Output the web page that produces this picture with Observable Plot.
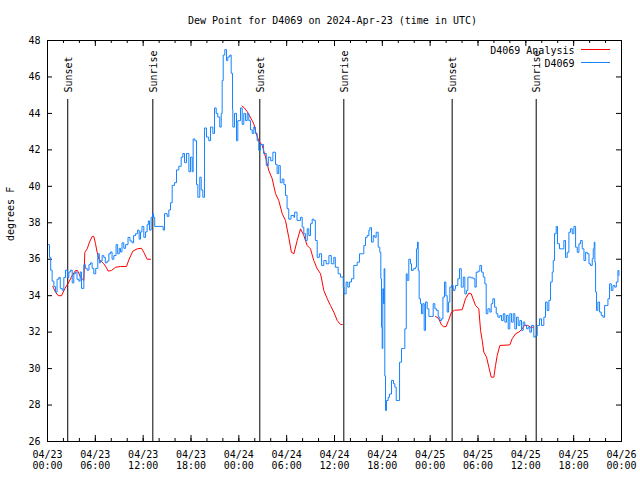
<!DOCTYPE html>
<html><head><meta charset="utf-8">
<script src="https://cdn.jsdelivr.net/npm/d3@7"></script>
<script src="https://cdn.jsdelivr.net/npm/@observablehq/plot@0.6"></script>
<style>body{margin:0;background:#fff} svg{display:block}</style>
</head><body><div id="chart"></div>
<script>
// ---- data (hours after 2024-04-23 00:00 UTC, degrees F) ----
const titleText = "Dew Point for D4069 on 2024-Apr-23 (time in UTC)";
const yLabel = "degrees F";
const seriesNames = ["D4069 Analysis", "D4069"];
const seriesColors = ["#ff0000", "#1683ff"];

const sunEventHours = [2.54, 13.21, 26.63, 37.17, 50.76, 61.3];
const sunEventLabels = ["Sunset", "Sunrise", "Sunset", "Sunrise", "Sunset", "Sunrise"];

const obsHours = [0.1,0.25,0.4,0.58,0.8,1.0,1.2,1.42,1.6,1.84,2.05,2.26,2.5,2.68,2.9,3.1,3.3,3.5,3.7,3.93,4.1,4.27,4.56,4.75,4.97,5.2,5.39,5.6,5.81,6.05,6.31,6.5,6.65,6.85,7.06,7.25,7.48,7.7,7.9,8.1,8.32,8.6,8.8,9.0,9.16,9.35,9.57,9.8,10.1,10.35,10.6,10.8,11.04,11.3,11.5,11.67,11.85,12.08,12.3,12.5,12.65,12.8,13.0,13.2,13.3,13.45,14.38,14.51,14.68,15.01,15.22,15.43,15.64,15.93,16.18,16.47,16.77,16.98,17.19,17.44,17.73,17.94,18.15,18.27,18.48,18.69,18.86,19.1,19.28,19.48,19.69,19.94,20.23,20.45,20.74,20.95,21.16,21.36,21.61,21.79,21.91,22.04,22.24,22.45,22.62,22.87,23.04,23.21,23.25,23.46,23.71,23.87,24.21,24.42,24.62,24.84,25.05,25.25,25.46,25.68,25.88,26.09,26.3,26.5,26.7,27.1,27.44,27.7,28.0,28.27,28.6,28.8,29.0,29.2,29.44,29.65,29.85,30.05,30.26,30.55,30.9,31.0,31.3,31.74,31.95,32.15,32.36,32.58,32.78,32.99,33.2,33.4,33.6,33.83,34.1,34.38,34.66,34.96,35.3,35.6,35.91,36.1,36.46,36.75,37.1,37.2,37.46,37.67,37.87,38.13,38.42,38.85,39.14,39.47,39.68,39.89,40.1,40.31,40.43,40.64,40.86,41.06,41.23,41.48,41.68,41.81,41.9,41.98,42.06,42.15,42.23,42.31,42.4,42.52,42.73,42.9,43.15,43.4,43.57,43.74,43.99,44.16,44.41,44.7,44.82,45.0,45.12,45.32,45.53,45.66,45.87,46.16,46.28,46.41,46.5,46.62,46.79,46.91,47.08,47.25,47.42,47.63,47.84,48.17,48.38,48.59,48.8,49.01,49.21,49.42,49.6,49.8,49.97,50.14,50.31,50.47,50.68,50.89,51.1,51.18,51.47,51.68,51.9,52.15,52.35,52.56,52.73,53.07,53.41,53.61,53.78,54.03,54.23,54.45,54.66,54.86,55.03,55.24,55.49,55.66,55.86,56.08,56.29,56.49,56.74,56.95,57.17,57.37,57.58,57.79,57.99,58.2,58.42,58.62,58.83,59.04,59.25,59.46,59.67,59.87,60.09,60.3,60.5,60.71,61.0,61.22,61.43,61.72,61.97,62.26,62.47,62.68,62.89,63.1,63.31,63.44,63.6,63.81,63.97,64.22,64.56,64.77,64.98,65.19,65.4,65.61,65.82,66.03,66.24,66.45,66.66,66.87,67.08,67.29,67.5,67.71,67.92,68.11,68.33,68.46,68.58,68.66,68.75,68.87,69.04,69.25,69.46,69.67,69.88,70.09,70.3,70.5,70.72,70.93,71.14,71.35,71.55,71.68];
const obsValues = [36.8,36.1,35.4,34.8,34.5,34.2,34.9,35.0,34.4,34.3,35.0,35.4,35.0,35.3,35.4,34.7,35.2,35.3,34.9,34.8,35.3,34.4,35.7,35.5,35.4,35.7,35.8,35.5,35.2,35.5,36.3,35.8,35.9,36.2,36.1,35.8,35.9,36.3,36.4,36.0,36.2,36.8,36.3,36.6,36.4,36.9,36.6,36.8,37.2,37.0,36.9,37.3,37.4,37.6,37.1,37.5,37.8,37.2,37.5,37.9,38.1,37.6,38.3,38.5,38.3,37.8,37.8,37.6,38.5,38.35,38.7,39.1,40.05,40.2,40.9,41.1,41.6,41.8,41.3,41.8,40.8,41.6,40.8,42.6,42.5,40.1,39.4,40.5,39.8,39.4,43.2,42.7,42.5,43.25,42.9,44.3,44.0,43.8,43.25,44.0,45.8,47.2,47.5,46.9,47.1,47.2,46.2,44.2,43.25,44.0,42.5,43.6,44.3,43.4,44.0,43.6,44.0,43.6,43.1,42.9,43.25,42.9,42.5,41.97,42.3,41.8,41.14,41.6,41.4,41.87,41.2,40.7,41.14,40.2,40.4,40.1,39.5,38.77,38.2,38.4,38.3,38.58,38.13,38.3,37.76,37.4,37.03,37.67,37.3,37.95,38.2,38.13,37.03,36.1,36.3,35.66,35.93,35.75,36.2,35.75,36.1,35.56,35.2,35.02,34.47,34.1,34.75,34.47,34.75,34.93,35.66,35.84,36.3,36.3,36.75,37.2,37.3,37.58,37.73,36.94,37.3,37.2,37.48,36.66,36.38,34.93,32.27,31.1,34.38,33.56,35.48,29.6,27.7,28.25,28.43,28.6,29.35,29.17,28.98,28.25,28.25,30.35,31.1,31.1,32.18,35.2,34.84,36.0,35.75,35.38,35.48,35.56,36.57,36.94,35.38,33.83,33.56,33.01,33.56,32.1,33.65,33.28,32.86,32.86,33.56,33.28,33.19,32.82,32.64,32.73,33.92,34.75,34.0,33.1,33.65,34.47,34.56,34.29,34.38,34.56,34.93,35.48,34.47,35.02,34.1,34.29,35.02,34.98,34.93,34.47,35.29,35.35,35.66,35.29,35.02,34.65,33.01,33.28,33.1,33.56,33.83,33.37,33.01,32.82,32.92,32.64,33.01,32.55,32.92,32.18,33.01,32.55,33.01,32.18,32.82,32.37,32.64,32.1,32.55,32.37,32.18,32.27,32.0,32.37,31.73,31.8,32.37,32.73,32.37,32.82,33.65,33.19,33.74,34.75,35.29,35.93,37.4,37.8,36.85,36.57,36.57,37.03,36.1,36.38,37.48,37.67,37.4,37.8,36.66,36.38,36.85,37.03,36.57,35.93,36.38,36.3,35.75,35.66,36.03,36.57,36.94,35.84,34.2,33.19,33.65,33.1,32.92,32.82,33.46,33.46,33.83,34.65,34.29,34.56,34.47,34.75,35.38,35.11];

// analysis series; null marks a gap between runs
const anaHours = [0.67,1.0,1.34,1.76,2.17,2.68,3.1,3.51,3.76,4.14,4.56,4.68,4.98,5.27,5.6,5.81,6.02,6.23,6.44,6.65,7.06,7.36,7.61,8.03,8.53,9.16,9.91,10.2,10.7,11.25,11.79,12.08,12.5,12.92,
  null,
  24.4,24.7,25.05,25.3,25.68,25.9,26.1,26.5,26.93,27.35,27.76,28.19,28.6,29.01,29.44,29.85,30.26,30.6,30.9,31.32,31.74,32.15,32.58,32.99,33.4,33.83,34.25,34.66,35.09,35.5,35.91,36.34,36.75,36.97,
  null,
  48.67,49.05,49.42,49.67,50.0,50.31,50.68,51.06,52.02,52.43,52.85,53.15,53.69,54.1,54.32,54.53,54.73,55.07,55.36,55.66,55.99,56.2,56.41,56.74,57.99,58.29,58.71,59.12,59.55,59.84,60.25,60.59,60.93];
const anaValues = [34.5,34.2,34.0,34.0,34.38,34.75,35.11,35.38,35.38,35.02,34.84,36.38,36.57,36.94,37.25,37.25,36.85,36.38,36.0,35.93,35.75,35.56,35.35,35.38,35.56,35.6,35.6,35.96,36.44,36.57,36.6,36.38,36.0,36.0,
  null,
  44.4,44.3,44.1,43.9,43.6,43.4,43.0,42.5,42.24,41.6,40.87,40.41,39.6,39.22,38.5,38.13,37.2,36.38,36.3,37.03,37.67,37.3,36.75,36.57,35.93,35.48,35.2,34.29,33.83,33.46,33.1,32.64,32.42,32.42,
  null,
  32.86,32.75,32.4,32.3,32.3,32.65,33.1,33.2,33.23,33.83,34.14,34.1,33.46,33.28,32.1,31.54,30.9,30.63,30.08,29.53,29.53,30.17,30.72,31.27,31.3,31.64,31.91,32.0,32.18,32.37,32.37,32.27,32.27];

const yTicks = [26,28,30,32,34,36,38,40,42,44,46,48];
const majorTickHours = [0,6,12,18,24,30,36,42,48,54,60,66,72];

// ---- build ----
const start = Date.UTC(2024, 3, 23);
const toDate = h => h == null ? null : new Date(start + h * 3600e3);
const W = 640, H = 480, mL = 47, mR = 19, mT = 40, mB = 39;
const plotH = H - mT - mB, plotW = W - mL - mR;
const majorTicks = majorTickHours.map(toDate);
const minorTicks = d3.range(0, 73, 2).map(toDate);
const fmt = d3.utcFormat("%m/%d\n%H:%M");

const legend = () => {
  const g = d3.create("svg:g").attr("stroke-width", 1);
  g.append("line").attr("x1", 581).attr("x2", 610).attr("y1", 49.5).attr("y2", 49.5).attr("stroke", seriesColors[0]);
  g.append("line").attr("x1", 581).attr("x2", 610).attr("y1", 62.5).attr("y2", 62.5).attr("stroke", seriesColors[1]);
  return g.node();
};

const chart = Plot.plot({
  width: W, height: H,
  marginLeft: mL, marginRight: mR, marginTop: mT, marginBottom: mB,
  style: {fontFamily: "'DejaVu Sans Mono', monospace", fontSize: "10px", background: "white", color: "black"},
  x: {type: "utc", domain: [toDate(0), toDate(72)]},
  y: {domain: [26, 48]},
  marks: [
    Plot.axisX(majorTicks, {tickSize: 0, tickPadding: 9, tickFormat: fmt, lineHeight: 1.1, label: null, fontSize: 10}),
    Plot.axisY(yTicks, {tickSize: 0, tickPadding: 7, label: null, fontSize: 10}),
    Plot.ruleX(minorTicks, {insetTop: plotH - 3, stroke: "black"}),
    Plot.ruleX(minorTicks, {insetBottom: plotH - 3, stroke: "black"}),
    Plot.ruleX(majorTicks, {insetTop: plotH - 6, stroke: "black"}),
    Plot.ruleX(majorTicks, {insetBottom: plotH - 6, stroke: "black"}),
    Plot.ruleY(yTicks, {insetRight: plotW - 5, stroke: "black"}),
    Plot.ruleY(yTicks, {insetLeft: plotW - 5, stroke: "black"}),
    Plot.ruleX(sunEventHours.map(toDate), {insetTop: 59, stroke: "black"}),
    Plot.text(sunEventHours, {x: sunEventHours.map(toDate), text: sunEventLabels, frameAnchor: "top", dy: 52, dx: 1, rotate: -90, textAnchor: "start", lineAnchor: "middle", fontSize: 10}),
    Plot.line(anaValues, {x: anaHours.map(toDate), y: anaValues, stroke: seriesColors[0], strokeWidth: 1}),
    Plot.line(obsValues, {x: obsHours.map(toDate), y: obsValues, stroke: seriesColors[1], strokeWidth: 1, curve: "step-after"}),
    Plot.frame({stroke: "black"}),
    Plot.text([titleText], {frameAnchor: "top", dy: -20, dx: -2, lineAnchor: "middle", fontSize: 10}),
    Plot.text([yLabel], {frameAnchor: "left", dx: -37, rotate: -90, lineAnchor: "middle", fontSize: 10}),
    Plot.text([seriesNames[0]], {frameAnchor: "top-right", dx: -47, dy: 10, textAnchor: "end", lineAnchor: "middle", fontSize: 10}),
    Plot.text([seriesNames[1]], {frameAnchor: "top-right", dx: -47, dy: 23, textAnchor: "end", lineAnchor: "middle", fontSize: 10}),
    legend
  ]
});
document.getElementById("chart").appendChild(chart);
</script>
</body></html>
